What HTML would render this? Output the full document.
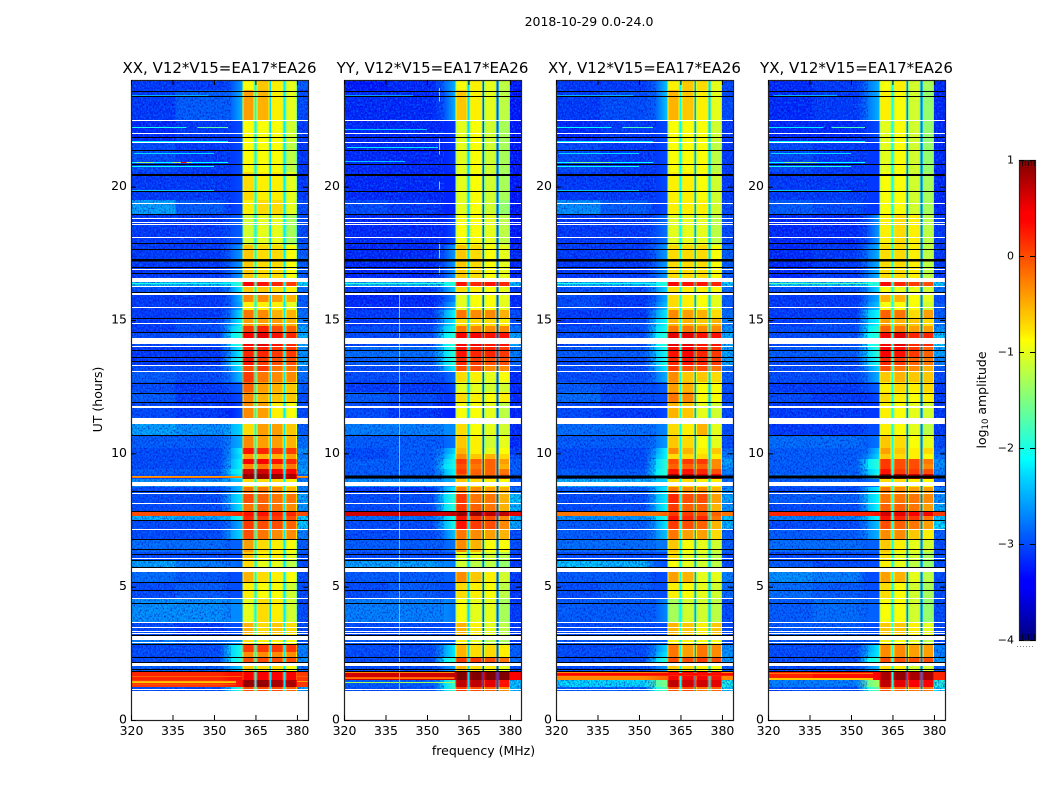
<!DOCTYPE html>
<html lang="en">
<head>
<meta charset="utf-8">
<title>2018-10-29 0.0-24.0</title>
<style>
html,body{margin:0;padding:0;background:#fff;width:1050px;height:800px;overflow:hidden}
svg{display:block}
text{font-family:"DejaVu Sans","Liberation Sans",sans-serif;fill:#000}
</style>
</head>
<body>
<svg id="figure" xmlns="http://www.w3.org/2000/svg" width="1050" height="800" viewBox="0 0 1050 800">
<defs id="figure-defs">
<filter id="speckle-dark" x="0" y="0" width="100%" height="100%" color-interpolation-filters="sRGB">
<feTurbulence type="fractalNoise" baseFrequency="0.62 0.5" numOctaves="2" seed="7"/>
<feColorMatrix type="matrix" values="0 0 0 0 0  0 0 0 0 0  0 0 0 0 0.72  3.2 0 0 0 -1.4"/>
</filter>
<filter id="speckle-light" x="0" y="0" width="100%" height="100%" color-interpolation-filters="sRGB">
<feTurbulence type="fractalNoise" baseFrequency="0.58 0.47" numOctaves="2" seed="23"/>
<feColorMatrix type="matrix" values="0 0 0 0 0  0 0 0 0 0.5  0 0 0 0 1  0 3.2 0 0 -1.45"/>
</filter>
<linearGradient id="jet-gradient" x1="0" y1="1" x2="0" y2="0">
<stop offset="0" stop-color="#00007f"/>
<stop offset="0.11" stop-color="#0000ff"/>
<stop offset="0.125" stop-color="#0000ff"/>
<stop offset="0.35" stop-color="#00e0ff"/>
<stop offset="0.375" stop-color="#00ffff"/>
<stop offset="0.5" stop-color="#7fff7f"/>
<stop offset="0.625" stop-color="#ffff00"/>
<stop offset="0.64" stop-color="#ffea00"/>
<stop offset="0.875" stop-color="#ff0000"/>
<stop offset="0.89" stop-color="#ff0000"/>
<stop offset="1" stop-color="#7f0000"/>
</linearGradient>
</defs>
<text x="589" y="26" font-size="12.5" text-anchor="middle">2018-10-29 0.0-24.0</text>
<text x="483.5" y="755" font-size="12.5" text-anchor="middle">frequency (MHz)</text>
<text x="0" y="0" font-size="12.5" text-anchor="middle" transform="translate(102 399.5) rotate(-90)">UT (hours)</text>
<text x="0" y="0" font-size="12.5" text-anchor="middle" transform="translate(986 400) rotate(-90)">log<tspan font-size="8.5" dy="2">10</tspan><tspan dy="-2"> amplitude</tspan></text>
<g id="panels"></g>
<g id="colorbar"></g>
</svg>
<script>
const panelTitles = ["XX, V12*V15=EA17*EA26","YY, V12*V15=EA17*EA26","XY, V12*V15=EA17*EA26","YX, V12*V15=EA17*EA26"];
const freqTicks = [320,335,350,365,380];
const utTicks = [0,5,10,15,20];
const colorbarTicks = [1,0,-1,-2,-3,-4];

// Frequency bin edges in MHz: low, mid, two shoulders, then four bands split by three gaps, then upper edge.
const freqEdges = [320,336,352,356,360.4,364.6,365.4,370,370.7,375.1,375.8,380,384];

// UT edges in hours for the level rows below (top of plot to bottom).
const utEdges = [24,23.62,22.5,21.67,20.55,19.5,18.97,17.81,16.57,16.42,16.24,15.94,15.67,15.37,15.07,14.77,14.55,14.32,14.02,13.61,13.31,13.05,12.67,12.3,11.92,11.32,11.1,10.65,10.2,9.97,9.79,9.6,9.41,9.22,9.04,8.74,8.51,8.14,7.8,7.65,7.5,7.12,6.75,6.3,6,5.55,5.17,4.57,3.64,3.15,2.85,2.55,2.36,2.14,1.8,1.5,1.24,1.09];

// log10 amplitude per row: [low, mid, shoulder1, shoulder2, band1, band2, band3, band4, upper]
const xxLevels = [
[-3.1,-3.1,-3.0,-2.6,-0.9,-0.6,-0.8,-1.0,-2.9],[-3.1,-2.9,-2.9,-2.5,-0.4,-0.5,-0.8,-1.0,-3.0],[-3.2,-3.1,-3.1,-3.0,-0.9,-0.9,-0.9,-1.1,-3.1],
[-3.0,-3.1,-3.1,-3.0,-0.9,-0.9,-0.9,-1.2,-3.1],[-3.1,-3.1,-3.1,-3.0,-0.7,-0.8,-0.8,-1.0,-3.1],[-2.5,-2.9,-3.1,-3.0,-0.8,-0.7,-0.7,-1.0,-3.0],
[-3.1,-3.1,-3.0,-2.9,-1.1,-1.0,-1.0,-1.3,-3.0],[-3.1,-3.1,-2.9,-2.6,-0.6,-0.7,-0.7,-0.9,-2.9],[-3.1,-3.1,-2.9,-2.6,-0.6,-0.7,-0.7,-0.9,-2.9],
[-2.4,-2.4,-2.2,-1.8,0.4,0.3,0.2,0.1,-2.2],[-3.0,-3.0,-2.7,-2.2,-0.6,-0.6,-0.7,-0.8,-2.8],[-3.1,-3.1,-2.9,-2.4,-0.3,-0.3,-0.4,-0.5,-2.9],
[-3.1,-3.1,-2.9,-2.5,-0.8,-0.8,-0.8,-1.0,-2.9],[-3.1,-3.1,-2.8,-2.2,-0.2,-0.3,-0.5,-0.5,-2.8],[-3.1,-3.0,-2.6,-2.1,-0.4,-0.4,-0.4,-0.5,-2.7],
[-3.1,-3.0,-2.4,-2.0,0.1,0.2,0.0,-0.1,-2.5],[-3.0,-3.0,-2.2,-1.9,0.4,0.5,0.3,0.2,-2.4],[-3.0,-3.0,-2.2,-1.9,0.4,0.5,0.3,0.2,-2.4],
[-3.1,-3.1,-2.6,-2.1,0.2,0.2,0.1,0.1,-2.6],[-3.1,-3.1,-2.4,-2.0,0.3,0.1,0.0,0.0,-2.5],[-3.0,-3.0,-2.6,-2.2,0.0,0.1,-0.2,-0.2,-2.7],
[-2.9,-3.0,-2.8,-2.4,0.1,-0.2,-0.3,-0.3,-2.8],[-3.0,-3.1,-3.0,-2.9,-0.1,-0.4,-0.5,-0.6,-2.9],[-2.9,-3.1,-3.1,-3.0,-0.3,-0.5,-0.6,-0.6,-3.0],
[-3.0,-3.1,-3.2,-3.0,-0.3,-0.4,-0.8,-0.9,-3.0],[-3.0,-3.1,-3.2,-3.0,-0.3,-0.4,-0.8,-0.9,-3.0],[-2.5,-2.6,-2.5,-2.3,-0.7,-0.4,-0.4,-0.6,-2.9],
[-2.9,-2.9,-2.7,-2.5,-0.3,-0.4,-0.4,-0.5,-2.8],[-3.0,-3.0,-2.6,-2.1,0.3,0.2,0.1,0.1,-2.6],[-3.0,-3.0,-2.6,-2.2,-0.4,-0.5,-0.5,-0.4,-2.7],
[-3.0,-3.0,-2.5,-2.1,0.4,0.4,0.3,0.2,-2.6],[-3.0,-3.0,-2.5,-2.1,-0.3,-0.2,-0.3,-0.2,-2.6],[-2.9,-2.9,-2.3,-2.0,0.6,0.6,0.4,0.4,-2.5],
[-3.0,-3.0,-2.5,-2.1,0.9,0.9,0.9,0.8,-2.8],[-2.6,-2.6,-2.5,-2.4,-0.7,-0.7,-0.7,-0.8,-2.7],[-3.0,-3.0,-2.7,-2.4,-0.2,-0.2,-0.3,-0.5,-2.7],
[-3.0,-3.0,-2.5,-2.2,0.0,-0.1,-0.2,-0.2,-2.5],[-3.0,-3.0,-2.6,-2.2,-0.2,-0.1,-0.2,-0.3,-2.6],[0.0,0.0,0.1,0.2,0.3,0.3,0.2,0.2,0.0],
[-2.4,-2.5,-2.3,-2.0,0.2,0.1,0.1,0.0,-2.2],[-3.0,-3.0,-2.8,-2.5,0.1,0.0,0.0,-0.1,-2.3],[-3.0,-3.0,-2.6,-2.3,0.0,-0.2,-0.3,-0.3,-2.7],
[-2.8,-2.8,-2.9,-2.9,-0.4,-0.7,-0.8,-0.9,-2.9],[-3.0,-3.0,-3.0,-3.0,-0.6,-0.8,-0.8,-1.0,-3.0],[-2.5,-2.7,-2.8,-2.9,-0.7,-1.0,-1.0,-1.2,-3.0],
[-2.8,-2.9,-3.0,-3.0,-0.5,-0.7,-0.8,-0.9,-3.0],[-3.0,-2.9,-3.0,-3.0,-0.8,-0.9,-0.9,-1.1,-3.0],[-2.6,-2.6,-2.7,-2.7,-1.0,-0.7,-0.8,-1.1,-3.0],
[-3.0,-3.1,-3.0,-3.0,-0.5,-0.7,-0.6,-0.7,-3.0],[-2.7,-2.8,-2.7,-2.6,-0.7,-0.8,-0.8,-0.9,-2.9],[-3.0,-3.0,-2.3,-2.0,0.1,0.1,0.1,0.1,-2.7],
[-3.0,-3.0,-2.3,-2.0,-0.3,-0.3,-0.3,-0.3,-2.7],[-3.0,-3.0,-2.2,-1.9,0.0,0.0,0.0,0.0,-2.6],[-2.9,-2.9,-2.6,-2.4,-0.6,-0.7,-0.7,-0.9,-2.8],
[0.2,0.2,0.3,0.3,0.4,0.4,0.4,0.4,0.1],[0.1,0.1,0.2,0.3,0.9,0.9,0.8,0.8,0.1],[-3.0,-3.0,-2.3,-1.8,0.0,0.0,0.0,-0.1,-2.5]
];
const yyLevels = [
[-3.3,-3.2,-2.9,-2.5,-0.9,-0.8,-1.0,-1.2,-3.3],[-3.2,-3.2,-3.0,-2.5,-0.6,-0.8,-1.0,-1.2,-3.3],[-3.2,-3.2,-3.2,-3.1,-1.0,-0.9,-1.1,-1.3,-3.3],
[-3.2,-3.2,-3.2,-3.1,-1.0,-0.9,-1.1,-1.3,-3.3],[-3.2,-3.2,-3.2,-3.2,-1.0,-0.9,-1.1,-1.3,-3.3],[-3.0,-3.1,-3.2,-3.2,-1.0,-0.9,-1.1,-1.4,-3.3],
[-3.2,-3.2,-3.2,-3.0,-0.9,-0.9,-1.0,-1.2,-3.3],[-3.2,-3.2,-3.0,-2.6,-0.6,-0.7,-0.9,-1.0,-3.2],[-3.2,-3.2,-3.0,-2.6,-0.6,-0.7,-0.9,-1.0,-3.2],
[-2.4,-2.4,-2.2,-1.9,0.3,0.2,0.3,0.2,-2.4],[-3.1,-3.1,-2.8,-2.4,-0.7,-0.8,-0.9,-1.0,-3.1],[-3.2,-3.2,-3.0,-2.7,-1.0,-0.9,-0.9,-1.0,-3.2],
[-3.2,-3.2,-2.9,-2.5,-1.0,-0.9,-0.9,-1.0,-3.2],[-3.1,-3.1,-2.6,-2.1,-0.2,-0.3,-0.3,-0.5,-3.0],[-3.1,-3.1,-2.6,-2.2,-0.7,-0.7,-0.7,-0.8,-3.0],
[-3.0,-3.0,-2.4,-2.0,-0.2,-0.3,-0.3,-0.3,-2.8],[-3.0,-3.0,-2.2,-1.9,0.4,0.4,0.3,0.3,-2.5],[-3.0,-3.0,-2.2,-1.9,0.4,0.4,0.3,0.3,-2.5],
[-2.8,-2.8,-2.3,-1.9,0.3,0.2,0.2,0.1,-2.7],[-2.9,-2.9,-2.3,-1.9,0.2,0.1,0.0,0.0,-2.8],[-3.0,-3.0,-2.6,-2.2,0.0,0.0,-0.3,-0.3,-3.0],
[-3.0,-3.0,-3.0,-2.8,-0.7,-0.8,-1.0,-0.9,-3.2],[-3.1,-3.1,-3.1,-3.0,-1.0,-1.0,-1.1,-1.1,-3.2],[-2.9,-3.0,-3.1,-3.1,-0.7,-0.8,-0.9,-0.8,-3.2],
[-3.0,-3.1,-3.2,-3.2,-0.9,-0.9,-1.0,-1.2,-3.2],[-3.0,-3.1,-3.2,-3.2,-0.9,-0.9,-1.0,-1.2,-3.2],[-2.7,-2.7,-2.7,-2.7,-0.7,-0.9,-1.0,-1.1,-3.2],
[-2.9,-2.9,-2.9,-2.8,-0.6,-0.8,-1.1,-1.0,-3.2],[-3.0,-2.9,-2.7,-2.3,-0.5,-0.8,-1.0,-0.9,-3.1],[-3.0,-2.9,-2.6,-2.1,-0.3,-0.6,-0.5,-0.7,-3.0],
[-2.9,-2.9,-2.4,-2.0,0.1,-0.1,-0.1,-0.4,-2.9],[-2.9,-2.9,-2.3,-2.0,0.0,-0.2,-0.1,-0.5,-2.9],[-2.9,-2.9,-2.5,-2.1,0.1,-0.1,-0.1,-0.2,-2.9],
[-2.9,-2.9,-2.5,-2.1,-0.1,-0.1,-0.1,-0.1,-2.9],[-2.6,-2.6,-2.6,-2.5,-0.6,-0.7,-0.8,-0.9,-2.9],[-3.1,-3.1,-2.6,-2.2,-0.2,-0.3,-0.4,-0.5,-2.8],
[-3.0,-3.0,-2.3,-1.9,0.1,-0.2,-0.2,-0.5,-2.3],[-3.0,-3.0,-2.3,-1.9,0.1,-0.1,-0.2,-0.5,-2.4],[0.6,0.6,0.6,0.7,0.9,0.9,0.7,0.7,0.5],
[-2.8,-2.8,-2.4,-2.0,0.3,0.1,0.0,-0.3,-2.4],[-3.0,-3.0,-2.5,-2.0,0.3,0.1,0.0,-0.3,-2.5],[-3.0,-3.0,-2.8,-2.4,-0.2,-0.3,-0.4,-0.5,-3.0],
[-2.9,-2.9,-2.9,-2.8,-0.3,-0.5,-0.9,-0.9,-3.0],[-3.0,-3.0,-3.0,-3.0,-1.0,-1.0,-1.1,-1.2,-3.1],[-2.5,-2.5,-2.7,-2.8,-1.1,-1.2,-1.2,-1.4,-3.1],
[-2.9,-2.9,-2.9,-2.9,-0.3,-0.6,-0.8,-1.1,-3.1],[-3.0,-2.9,-3.0,-3.0,-0.7,-0.8,-0.9,-1.2,-3.1],[-2.7,-2.7,-2.7,-2.8,-0.9,-1.0,-1.0,-1.3,-3.1],
[-3.0,-3.0,-3.0,-3.0,-0.5,-0.8,-1.0,-1.2,-3.1],[-2.9,-2.9,-2.9,-2.9,-0.8,-1.0,-1.2,-1.3,-3.1],[-3.0,-3.0,-2.6,-2.2,-0.5,-0.7,-0.7,-0.8,-2.9],
[-3.0,-3.0,-2.6,-2.2,-0.5,-0.7,-0.7,-0.8,-2.9],[-3.0,-3.0,-2.2,-1.9,0.1,0.1,0.0,-0.2,-2.8],[-3.0,-3.0,-2.8,-2.6,-0.5,-0.7,-0.8,-1.0,-3.0],
[0.6,0.6,0.6,0.7,1.0,1.0,1.0,1.0,0.4],[-2.9,-2.9,-2.3,-1.8,0.7,0.7,0.5,0.3,-2.3],[-3.0,-3.0,-2.3,-1.8,0.1,0.0,-0.1,-0.3,-2.4]
];
const xyLevels = [
[-3.1,-3.1,-2.9,-2.4,-0.8,-0.6,-0.7,-1.0,-3.0],[-3.1,-3.0,-2.9,-2.4,-0.5,-0.6,-0.8,-1.0,-3.0],[-3.2,-3.1,-3.1,-3.0,-0.9,-0.9,-0.9,-1.1,-3.1],
[-3.0,-3.1,-3.1,-3.0,-0.9,-0.9,-0.9,-1.2,-3.1],[-3.1,-3.1,-3.1,-3.0,-0.8,-0.8,-0.9,-1.1,-3.1],[-2.6,-2.9,-3.1,-3.0,-0.8,-0.8,-0.8,-1.1,-3.0],
[-3.1,-3.1,-3.0,-2.8,-1.0,-1.0,-1.0,-1.2,-3.0],[-3.1,-3.1,-2.9,-2.6,-0.7,-0.7,-0.7,-0.9,-2.9],[-3.1,-3.1,-2.9,-2.6,-0.7,-0.7,-0.7,-0.9,-2.9],
[-2.4,-2.4,-2.2,-1.9,0.4,0.3,0.3,0.2,-2.3],[-3.0,-3.0,-2.7,-2.3,-0.7,-0.8,-0.8,-0.9,-2.8],[-3.0,-3.1,-2.9,-2.5,-0.7,-0.8,-0.9,-1.0,-2.9],
[-3.0,-3.1,-2.8,-2.4,-0.7,-0.8,-0.9,-1.0,-2.9],[-3.1,-3.1,-2.6,-2.2,-0.3,-0.4,-0.5,-0.7,-2.8],[-3.1,-3.0,-2.4,-2.1,-0.5,-0.5,-0.6,-0.5,-2.7],
[-3.0,-3.0,-2.3,-2.0,-0.2,-0.2,-0.3,-0.3,-2.6],[-3.0,-3.0,-2.2,-1.9,0.5,0.5,0.3,0.3,-2.4],[-3.0,-3.0,-2.2,-1.9,0.5,0.5,0.3,0.3,-2.4],
[-2.9,-2.9,-2.4,-2.0,0.3,0.4,0.2,0.1,-2.5],[-3.0,-3.0,-2.4,-2.0,0.2,0.3,0.2,0.1,-2.5],[-3.0,-3.0,-2.6,-2.2,0.1,0.0,0.0,-0.2,-2.8],
[-3.0,-3.0,-2.8,-2.5,-0.3,-0.6,-0.6,-0.7,-2.9],[-2.9,-3.0,-3.0,-2.9,-0.4,-0.5,-0.9,-0.9,-3.0],[-2.8,-3.0,-3.0,-3.0,-0.2,-0.3,-0.9,-0.9,-3.0],
[-3.0,-3.1,-3.1,-3.0,-0.5,-0.6,-1.0,-1.1,-3.0],[-3.0,-3.1,-3.1,-3.0,-0.5,-0.6,-1.0,-1.1,-3.0],[-2.8,-2.8,-2.8,-2.7,-0.7,-0.8,-0.5,-1.0,-3.0],
[-2.9,-2.9,-2.8,-2.6,-0.6,-0.7,-0.9,-1.0,-3.0],[-3.0,-3.0,-2.6,-2.1,-0.3,-0.5,-0.8,-0.6,-2.8],[-3.0,-3.0,-2.5,-2.1,-0.7,-0.7,-0.7,-0.8,-2.7],
[-3.0,-3.0,-2.3,-1.9,0.0,0.1,0.1,-0.3,-2.5],[-3.0,-3.0,-2.3,-1.9,-0.1,-0.1,-0.1,-0.3,-2.6],[-2.9,-2.9,-2.2,-1.9,0.3,0.3,0.2,0.0,-2.7],
[-2.9,-2.9,-2.2,-1.9,0.8,0.7,0.5,0.4,-2.8],[-2.4,-2.4,-2.4,-2.4,-0.7,-0.7,-0.8,-0.8,-2.8],[-2.9,-2.9,-2.5,-2.2,-0.2,-0.3,-0.3,-0.5,-2.6],
[-3.0,-3.0,-2.5,-2.2,0.2,0.0,0.0,-0.4,-2.5],[-3.0,-3.0,-2.5,-2.1,0.1,-0.1,-0.1,-0.5,-2.6],[-0.2,-0.2,-0.2,-0.1,0.1,0.1,0.0,-0.1,-0.2],
[-2.6,-2.6,-2.3,-2.0,0.3,0.2,0.2,-0.2,-2.3],[-2.9,-2.9,-2.6,-2.2,0.1,0.0,-0.1,-0.5,-2.4],[-2.9,-2.9,-2.7,-2.4,-0.2,-0.4,-0.4,-0.7,-2.9],
[-2.8,-2.8,-2.8,-2.8,-0.6,-0.9,-1.0,-1.1,-2.9],[-3.0,-3.0,-3.0,-3.0,-0.7,-1.0,-1.1,-1.2,-3.0],[-2.3,-2.4,-2.9,-3.0,-0.9,-1.0,-1.1,-1.2,-3.0],
[-2.9,-2.9,-3.0,-3.0,-0.4,-0.5,-1.0,-1.0,-2.7],[-3.0,-2.9,-3.0,-3.0,-0.8,-0.9,-1.0,-1.1,-2.8],[-2.9,-2.9,-2.9,-2.7,-1.3,-1.1,-1.1,-1.2,-3.0],
[-3.0,-3.0,-3.0,-3.0,-0.5,-0.6,-0.8,-0.6,-3.0],[-2.9,-2.9,-2.9,-2.9,-0.8,-0.8,-0.9,-0.9,-3.0],[-3.0,-3.0,-2.7,-2.3,-0.2,-0.4,-0.2,-0.3,-2.6],
[-3.0,-3.0,-2.6,-2.2,-0.2,-0.4,-0.2,-0.3,-2.6],[-3.0,-3.0,-2.3,-1.9,0.0,0.0,0.1,0.0,-2.5],[-3.0,-3.0,-2.8,-2.6,-0.6,-0.7,-0.8,-0.9,-2.9],
[-0.3,-0.3,-0.2,-0.1,0.4,0.4,0.4,0.3,-0.3],[-2.2,-2.2,-1.7,-1.5,0.7,0.6,0.6,0.5,-2.0],[-2.9,-2.9,-2.0,-1.7,0.0,0.0,-0.2,-0.1,-2.2]
];
const yxLevels = [
[-3.2,-3.1,-2.8,-2.5,-0.9,-0.8,-1.1,-1.3,-3.2],[-3.2,-3.1,-2.8,-2.5,-0.8,-0.9,-1.1,-1.4,-3.2],[-3.2,-3.2,-3.1,-3.0,-1.0,-0.9,-1.1,-1.4,-3.2],
[-3.0,-3.1,-3.1,-3.1,-1.0,-0.9,-1.1,-1.4,-3.2],[-3.1,-3.1,-3.1,-3.1,-0.9,-0.9,-1.1,-1.3,-3.2],[-2.9,-3.0,-3.1,-3.1,-0.9,-0.9,-1.1,-1.3,-3.2],
[-3.2,-3.2,-3.0,-2.6,-0.8,-0.7,-0.8,-1.2,-3.1],[-3.2,-3.1,-2.8,-2.5,-0.7,-0.7,-0.8,-1.2,-3.1],[-3.2,-3.1,-2.8,-2.5,-0.7,-0.7,-0.8,-1.2,-3.1],
[-2.3,-2.3,-2.2,-1.9,0.4,0.2,0.1,0.0,-2.3],[-3.0,-3.0,-2.7,-2.3,-0.9,-1.0,-1.0,-1.1,-2.8],[-3.1,-3.1,-2.8,-2.5,-0.5,-0.5,-0.9,-1.0,-3.0],
[-3.1,-3.1,-2.7,-2.4,-0.9,-0.9,-0.9,-1.1,-2.9],[-3.1,-3.1,-2.4,-2.1,-0.1,-0.2,-0.7,-0.4,-2.9],[-3.1,-3.0,-2.4,-2.1,-0.4,-0.5,-0.6,-0.7,-2.8],
[-3.0,-3.0,-2.2,-1.9,-0.1,-0.2,-0.4,-0.4,-2.6],[-3.0,-3.0,-2.1,-1.9,0.4,0.5,0.2,0.2,-2.3],[-3.0,-3.0,-2.1,-1.9,0.4,0.5,0.2,0.2,-2.3],
[-2.9,-2.9,-2.3,-1.9,0.4,0.3,0.1,-0.1,-2.5],[-3.0,-3.0,-2.4,-2.0,0.2,0.1,-0.1,-0.2,-2.7],[-3.0,-3.0,-2.7,-2.3,0.0,-0.2,-0.3,-0.5,-2.9],
[-3.0,-3.0,-2.8,-2.5,-0.6,-0.5,-0.6,-0.6,-3.0],[-3.1,-3.1,-3.0,-2.9,-0.8,-0.7,-0.8,-0.7,-3.1],[-3.0,-3.1,-3.1,-3.0,-0.7,-0.8,-0.9,-0.8,-3.1],
[-3.1,-3.1,-3.1,-3.1,-0.8,-0.9,-1.0,-1.1,-3.1],[-3.1,-3.1,-3.1,-3.1,-0.8,-0.9,-1.0,-1.1,-3.1],[-3.1,-3.1,-3.0,-3.0,-0.8,-0.9,-1.0,-1.2,-3.1],
[-2.8,-2.8,-2.9,-2.8,-0.6,-0.7,-0.9,-1.0,-3.0],[-2.9,-2.9,-2.8,-2.4,-0.4,-0.6,-0.8,-0.7,-2.9],[-2.9,-2.9,-2.7,-2.3,-0.6,-0.7,-0.8,-0.9,-2.8],
[-2.9,-2.9,-2.2,-1.9,0.1,0.0,0.0,-0.2,-2.6],[-2.9,-2.9,-2.2,-1.9,0.1,0.0,0.0,-0.3,-2.6],[-2.9,-2.9,-2.4,-2.1,0.3,0.1,0.1,0.0,-2.7],
[-2.8,-2.8,-2.5,-1.8,0.9,0.8,0.6,0.6,-2.8],[-2.9,-2.9,-2.9,-2.8,-0.7,-0.7,-0.8,-0.9,-3.0],[-3.0,-3.0,-2.5,-2.2,-0.2,-0.3,-0.4,-0.4,-2.7],
[-2.9,-2.9,-2.4,-2.1,-0.2,-0.2,-0.2,-0.3,-2.6],[-3.0,-3.0,-2.5,-2.1,-0.1,-0.1,-0.2,-0.4,-2.5],[0.2,0.2,0.2,0.3,0.6,0.5,0.4,0.4,0.1],
[-2.7,-2.7,-2.4,-2.1,0.3,0.2,0.1,-0.2,-2.3],[-3.0,-3.0,-2.7,-2.4,0.0,-0.1,-0.2,-0.4,-2.2],[-2.9,-2.9,-2.7,-2.5,-0.3,-0.3,-0.6,-0.8,-2.9],
[-2.8,-2.8,-2.9,-2.9,-0.6,-0.8,-1.0,-1.1,-3.0],[-3.0,-3.0,-3.0,-3.0,-0.7,-1.0,-1.1,-1.3,-3.0],[-2.9,-3.0,-3.0,-3.0,-0.8,-1.0,-1.2,-1.4,-3.0],
[-2.6,-2.7,-3.0,-3.0,-0.4,-0.5,-1.0,-1.2,-3.0],[-2.8,-2.9,-3.0,-3.0,-0.7,-0.9,-1.1,-1.3,-3.0],[-2.9,-2.8,-2.9,-2.9,-0.9,-0.9,-1.1,-1.4,-3.0],
[-2.9,-2.9,-3.0,-3.0,-0.6,-0.6,-0.8,-1.0,-3.0],[-2.9,-2.9,-2.9,-2.9,-0.8,-0.9,-1.0,-1.2,-3.0],[-3.0,-3.0,-2.6,-2.2,-0.3,-0.3,-0.4,-0.4,-2.7],
[-3.0,-3.0,-2.5,-2.2,-0.3,-0.3,-0.4,-0.4,-2.7],[-3.0,-3.0,-2.1,-1.9,0.0,0.0,0.0,0.0,-2.5],[-3.0,-3.0,-2.7,-2.5,-0.7,-0.8,-1.1,-1.1,-2.9],
[0.2,0.3,0.3,0.4,0.8,0.9,0.8,0.8,0.2],[-2.7,-2.7,-1.6,-1.3,0.7,0.5,0.4,0.4,-1.9],[-3.0,-3.0,-2.0,-1.6,0.0,-0.1,-0.2,-0.2,-2.2]
];

// Amplitude of the three inter-band gaps for each product.
const xxGapLevels = [-2.1,-2.3,-2.2];
const yyGapLevels = [-2.3,-3.0,-3.0];
const xyGapLevels = [-2.1,-2.6,-2.3];
const yxGapLevels = [-2.0,-2.8,-2.8];

// Narrow RFI: [ut, start MHz, end MHz, log10 amplitude]
const xxStreaks = [[23.44,320,348,-2.5],[22.24,320,340,-2.0],[22.24,344,355,-1.7],[21.7,320,355,-2.2],[21.26,321,350,-2.3],[20.93,320,355,-2.1],[20.93,322,328,-1.4],[20.93,335,342,-1.3],[20.93,338,340,0.4],[20.78,320,350,-2.1],[19.89,320,350,-2.4],[16.38,320,358,-2.0],[9.15,320,360,-0.4],[9.11,320,360,-0.2],[9.15,380,384,-0.4],[9.11,380,384,-0.2],[1.65,320,360,-0.1],[1.46,320,358,-0.5],[1.43,320,358,-0.6],[1.35,320,358,0.0],[1.65,380,384,-0.1],[1.46,380,384,-0.4]];
const yyStreaks = [[23.44,320,345,-2.6],[22.15,320,350,-2.4],[21.5,321,354,-2.2],[20.95,320,342,-2.4],[16.38,320,358,-1.9],[1.79,320,360,-0.3],[1.61,320,360,-0.1],[1.57,320,360,-0.2],[1.42,320,360,-1.3]];
const xyStreaks = [[23.44,320,348,-2.5],[22.24,320,340,-2.1],[22.24,344,355,-1.8],[21.7,320,355,-2.2],[21.26,321,350,-2.3],[20.93,320,355,-2.1],[20.93,325,340,-1.6],[20.78,320,350,-2.1],[19.89,320,350,-2.4],[16.38,320,358,-2.0],[1.76,320,384,0.3],[1.72,320,384,0.4],[1.69,320,384,0.2]];
const yxStreaks = [[23.44,322,345,-2.5],[22.24,320,340,-2.2],[22.24,343,355,-1.8],[21.7,320,355,-2.1],[21.26,321,350,-2.3],[20.93,320,355,-2.1],[20.93,326,338,-1.5],[20.78,320,350,-2.0],[19.89,320,350,-2.4],[16.38,320,358,-1.7],[1.57,320,358,-0.6],[1.53,320,358,-0.6],[1.75,320,358,-0.2]];

// Single-channel RFI: [MHz, start UT, end UT, log10 amplitude]
const xxChannels = [];
const yyChannels = [[339.8,15.95,1.12,-2.2],[354.2,23.7,23.2,-1.9],[354.2,21.8,21.2,-1.8],[354.2,20.2,19.9,-1.8],[354.2,17.9,17.3,-1.8],[354.2,17.0,16.7,-1.8]];
const xyChannels = [];
const yxChannels = [];

// Flagged integrations, shared by the four products.
const missingLines = [22.5,22.01,21.67,19.39,18.83,18.68,18.6,18.11,16.91,16.26,15.49,14.89,14.04,13.31,13.09,11.78,11.72,8.52,8.14,7.16,6.09,4.58,3.66,3.49,3.34,3.26,2.91,1.16];
const missingSpans = [[16.58,16.42],[16.01,15.94],[14.33,14.1],[11.33,11.1],[8.93,8.78],[5.7,5.55],[3.15,3],[2.14,2.03],[1.09,0]];
const zeroLines = [23.59,23.4,21.86,21.38,20.85,20.49,20.44,19.84,18.98,17.89,17.66,16.99,16.76,16.05,15.08,14.55,14.33,13.88,13.61,13.46,12.64,12.26,11.93,10.69,8.59,7.84,7.5,7.16,6.79,6.41,6.23,6,5.74,5.18,4.88,4.39,3.19,2.85,2.36,2.18,1.91,1.84];
const zeroSpans = [[17.29,17.19]];
const yyZeroSpans = [[9.17,9.06]];

const products = [
  {key:'xx',levels:xxLevels,gaps:xxGapLevels,streaks:xxStreaks,channels:xxChannels,zero:[]},
  {key:'yy',levels:yyLevels,gaps:yyGapLevels,streaks:yyStreaks,channels:yyChannels,zero:yyZeroSpans},
  {key:'xy',levels:xyLevels,gaps:xyGapLevels,streaks:xyStreaks,channels:xyChannels,zero:yyZeroSpans},
  {key:'yx',levels:yxLevels,gaps:yxGapLevels,streaks:yxStreaks,channels:yxChannels,zero:yyZeroSpans}
];
const panelLeft = {xx:131,yy:344,xy:556,yx:768};
const plotTop = 80, plotBottom = 720, plotWidth = 177, freqMin = 320, freqMax = 384, utMax = 24;
const cbLeft = 1019, cbWidth = 16, cbTop = 160, cbBottom = 640, cbMin = -4, cbMax = 1;
const NS = 'http://www.w3.org/2000/svg';

function yScale(ut){ return plotBottom - ut * (plotBottom - plotTop) / utMax; }
function xScale(left, f){ return left + (f - freqMin) * plotWidth / (freqMax - freqMin); }
function cbScale(v){ return cbBottom - (v - cbMin) * (cbBottom - cbTop) / (cbMax - cbMin); }
function clamp01(x){ return Math.max(0, Math.min(1, x)); }
function jet(v){
  const t = clamp01((v - cbMin) / (cbMax - cbMin));
  const r = clamp01(1.5 - Math.abs(4 * t - 3));
  const g = clamp01(1.5 - Math.abs(4 * t - 2));
  const b = clamp01(1.5 - Math.abs(4 * t - 1));
  return 'rgb(' + Math.round(r * 255) + ',' + Math.round(g * 255) + ',' + Math.round(b * 255) + ')';
}
function make(tag, attrs, parent){
  const el = document.createElementNS(NS, tag);
  for (const k in attrs) el.setAttribute(k, attrs[k]);
  parent.appendChild(el);
  return el;
}
// Horizontal colour ramp between two neighbouring levels, used for the shoulder roll-off.
const figureDefs = document.getElementById('figure-defs');
let rampCount = 0;
function rampFill(fromLevel, toLevel){
  if (fromLevel === toLevel) return jet(toLevel);
  const id = 'ramp-' + (rampCount++);
  const grad = make('linearGradient', {id:id, x1:0, y1:0, x2:1, y2:0}, figureDefs);
  make('stop', {offset:0, 'stop-color':jet(fromLevel)}, grad);
  make('stop', {offset:1, 'stop-color':jet(toLevel)}, grad);
  return 'url(#' + id + ')';
}
// Column order across freqEdges: level index, or gap index when negative.
const columnSource = [0,1,2,3,4,-1,5,-2,6,-3,7,8];

const panelsGroup = document.getElementById('panels');
products.forEach(function(prod, pi){
  const left = panelLeft[prod.key];
  const g = make('g', {}, panelsGroup);
  
  

  const clipId = 'clip-' + prod.key;
  const clip = make('clipPath', {id:clipId}, g);
  make('rect', {x:left, y:plotTop, width:plotWidth, height:plotBottom - plotTop}, clip);

  const plot = make('g', {'clip-path':'url(#' + clipId + ')', 'shape-rendering':'crispEdges'}, g);
  
  

  const quietLayer = make('g', {}, plot);
  const speckleLayer = make('g', {}, plot);
  const loudLayer = make('g', {}, plot);

  prod.levels.forEach(function(row, ri){
    const y0 = yScale(utEdges[ri]), y1 = yScale(utEdges[ri + 1]);
    columnSource.forEach(function(src, ci){
      const x0 = xScale(left, freqEdges[ci]), x1 = xScale(left, freqEdges[ci + 1]);
      const level = src >= 0 ? row[src] : prod.gaps[-src - 1];
      const layer = level > -1.5 ? loudLayer : quietLayer;
      const fill = (src === 2 || src === 3) ? rampFill(row[src - 1], level) : jet(level);
      const cell = make('rect', {x:x0, y:y0, width:x1 - x0, height:y1 - y0, fill:fill}, layer);
      
      
      // Bands roll off by about half a decade at both of their edges.
      if (src >= 4 && src <= 7) {
        const edgeColor = jet(level - 0.45);
        const edgeL = make('rect', {x:x0, y:y0, width:1, height:y1 - y0, fill:edgeColor}, layer);
        
        
        const edgeR = make('rect', {x:x1 - 1, y:y0, width:1, height:y1 - y0, fill:edgeColor}, layer);
        
        
      }
    });
  });

  // Fine speckle over the quiet (non-band) frequencies.
  const quietEnd = xScale(left, freqEdges[3]), bandEnd = xScale(left, freqEdges[11]);
  ['speckle-dark','speckle-light'].forEach(function(fid){
    const low = make('rect', {x:left, y:plotTop, width:quietEnd - left, height:plotBottom - plotTop, filter:'url(#' + fid + ')', opacity:0.6}, speckleLayer);
    
    
    const high = make('rect', {x:bandEnd, y:plotTop, width:left + plotWidth - bandEnd, height:plotBottom - plotTop, filter:'url(#' + fid + ')', opacity:0.6}, speckleLayer);
    
    
  });

  prod.streaks.forEach(function(s){
    const streak = make('rect', {x:xScale(left, s[1]), y:Math.round(yScale(s[0])), width:xScale(left, s[2]) - xScale(left, s[1]), height:1, fill:jet(s[3])}, plot);
    
    
  });
  prod.channels.forEach(function(c){
    const line = make('rect', {x:Math.round(xScale(left, c[0])), y:yScale(c[1]), width:1, height:yScale(c[2]) - yScale(c[1]), fill:jet(c[3])}, plot);
    
    
  });

  zeroLines.forEach(function(ut){
    const line = make('rect', {x:left, y:Math.round(yScale(ut)), width:plotWidth, height:1, fill:'#000'}, plot);
    
    
  });
  zeroSpans.concat(prod.zero).forEach(function(span){
    const band = make('rect', {x:left, y:yScale(span[0]), width:plotWidth, height:yScale(span[1]) - yScale(span[0]), fill:'#000'}, plot);
    
    
  });
  missingLines.forEach(function(ut){
    const line = make('rect', {x:left, y:Math.round(yScale(ut)), width:plotWidth, height:1, fill:'#fff'}, plot);
    
    
  });
  missingSpans.forEach(function(span){
    const band = make('rect', {x:left, y:yScale(span[0]), width:plotWidth, height:yScale(span[1]) - yScale(span[0]), fill:'#fff'}, plot);
    
    
  });

  const frame = make('rect', {x:left + 0.5, y:plotTop + 0.5, width:plotWidth, height:plotBottom - plotTop, fill:'none', stroke:'#222', 'stroke-width':1.2}, g);
  
  

  freqTicks.forEach(function(f){
    const x = xScale(left, f) + 0.5;
    const tickBottom = make('line', {x1:x, x2:x, y1:plotBottom, y2:plotBottom - 5, stroke:'#000'}, g);
    
    
    const tickTop = make('line', {x1:x, x2:x, y1:plotTop, y2:plotTop + 5, stroke:'#000'}, g);
    
    
    const label = make('text', {x:x, y:735, 'font-size':12.5, 'text-anchor':'middle'}, g);
    label.textContent = String(f);
    
    
  });
  utTicks.forEach(function(ut){
    const y = yScale(ut) + 0.5;
    const tickLeft = make('line', {x1:left, x2:left + 5, y1:y, y2:y, stroke:'#000'}, g);
    
    
    const tickRight = make('line', {x1:left + plotWidth, x2:left + plotWidth - 5, y1:y, y2:y, stroke:'#000'}, g);
    
    
    const label = make('text', {x:left - 4, y:y + 3, 'font-size':12.5, 'text-anchor':'end'}, g);
    label.textContent = String(ut);
    
    
  });

  const title = make('text', {x:left + plotWidth / 2, y:73, 'font-size':15, 'text-anchor':'middle'}, g);
  title.textContent = panelTitles[pi];
  
  
});

// Colour bar
const cb = document.getElementById('colorbar');
const ramp = make('rect', {x:cbLeft, y:cbTop, width:cbWidth, height:cbBottom - cbTop, fill:'url(#jet-gradient)'}, cb);


for (let x = cbLeft + 3; x < cbLeft + cbWidth; x += 3) {
  const minorTop = make('line', {x1:x + 0.5, x2:x + 0.5, y1:cbTop, y2:cbTop + 6, stroke:'#000', 'stroke-width':0.7}, cb);
  
  
  const minorBottom = make('line', {x1:x + 0.5, x2:x + 0.5, y1:cbBottom, y2:cbBottom - 6, stroke:'#000', 'stroke-width':0.7}, cb);
  
  
}
for (let x = cbLeft - 2; x < cbLeft + cbWidth; x += 3) {
  const dot = make('rect', {x:x, y:646, width:1, height:1, fill:'#888'}, cb);
  
  
}
const cbFrame = make('rect', {x:cbLeft + 0.5, y:cbTop + 0.5, width:cbWidth, height:cbBottom - cbTop, fill:'none', stroke:'#222', 'stroke-width':1.2}, cb);


colorbarTicks.forEach(function(v){
  const y = cbScale(v) + 0.5;
  const tickL = make('line', {x1:cbLeft, x2:cbLeft + 5, y1:y, y2:y, stroke:'#000'}, cb);
  
  
  const tickR = make('line', {x1:cbLeft + cbWidth, x2:cbLeft + cbWidth - 5, y1:y, y2:y, stroke:'#000'}, cb);
  
  
  const label = make('text', {x:cbLeft - 5, y:y + 3, 'font-size':11, 'text-anchor':'end'}, cb);
  label.textContent = String(v).replace('-', '\u2212');
  
  
});
</script>
</body>
</html>
